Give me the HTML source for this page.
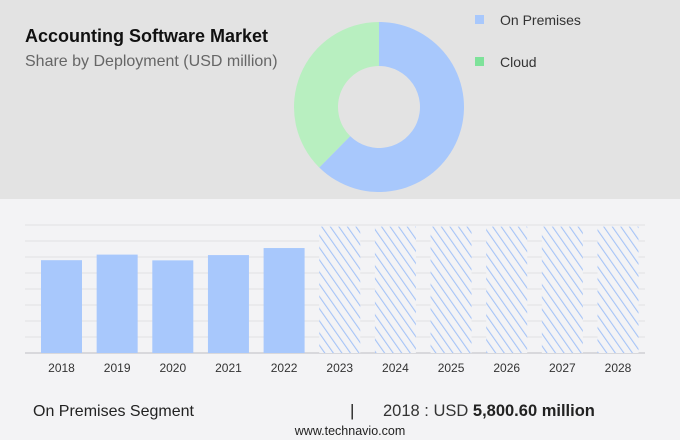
<!DOCTYPE html>
<html><head><meta charset="utf-8"><style>
body{margin:0;width:680px;height:440px;overflow:hidden;background:#f3f3f5;font-family:"Liberation Sans",sans-serif;}
svg{display:block}
</style></head><body>
<svg id="c" width="680" height="440" xmlns="http://www.w3.org/2000/svg">
<defs>
<pattern id="hatch" patternUnits="userSpaceOnUse" width="7" height="7" patternTransform="rotate(-35)">
<rect width="7" height="7" fill="#f3f3f5"/>
<line x1="0" y1="0" x2="0" y2="7" stroke="#a6c4f7" stroke-width="2.2"/>
</pattern>
</defs>
<rect x="0" y="0" width="680" height="199" fill="#e3e3e3"/>
<text x="25" y="42" font-size="18" font-weight="bold" fill="#111">Accounting Software Market</text>
<text x="25" y="66" font-size="16" fill="#666">Share by Deployment (USD million)</text>
<g id="donut"></g>
<rect x="475" y="15" width="9" height="9" fill="#a8c8fc"/>
<text x="500" y="25" font-size="14" fill="#333">On Premises</text>
<rect x="475" y="57" width="9" height="9" fill="#7ee29a"/>
<text x="500" y="67" font-size="14" fill="#333">Cloud</text>
<g id="grid"></g>
<g id="bars"></g>
<g id="xlab"></g>
<text x="33" y="416" font-size="16" fill="#222">On Premises Segment</text>
<text x="350" y="416" font-size="17" fill="#222">|</text>
<text x="383" y="416" font-size="16.5" fill="#333">2018 : USD <tspan font-weight="bold" fill="#222">5,800.60 million</tspan></text>
<text x="350" y="435" font-size="12.5" fill="#222" text-anchor="middle">www.technavio.com</text>
</svg>
<script>
const shareLabels=["On Premises","Cloud"];
const shareValues=[62.4,37.6];
const shareColors=["#a8c8fc","#b8efc0"];
const years=["2018","2019","2020","2021","2022","2023","2024","2025","2026","2027","2028"];
const values=[5800.6,6150,5790,6120,6560,7900,7900,7900,7900,7900,7900];
const forecast=[false,false,false,false,false,true,true,true,true,true,true];
const yTicks=[0,1000,2000,3000,4000,5000,6000,7000,8000];
const NS="http://www.w3.org/2000/svg";
function mk(t,a,p){const e=document.createElementNS(NS,t);for(const k in a)e.setAttribute(k,a[k]);p.appendChild(e);return e;}
const cx=379,cy=107,R=85,r=41;
const dg=document.getElementById('donut');
const tot=shareValues.reduce((a,b)=>a+b,0);
let ang=0;
shareValues.forEach((v,i)=>{
 const a0=ang,a1=ang+v/tot*2*Math.PI;ang=a1;
 const p=(rr,a)=>[cx+rr*Math.sin(a),cy-rr*Math.cos(a)];
 const lg=(a1-a0)>Math.PI?1:0;
 const [x0,y0]=p(R,a0),[x1,y1]=p(R,a1),[x2,y2]=p(r,a1),[x3,y3]=p(r,a0);
 const e=mk('path',{d:`M${x0},${y0}A${R},${R} 0 ${lg} 1 ${x1},${y1}L${x2},${y2}A${r},${r} 0 ${lg} 0 ${x3},${y3}Z`,fill:shareColors[i]},dg);
 
 
});
const baseY=353,topY=225,yMax=8000;
const ys=v=>baseY-(v/yMax)*(baseY-topY);
const x0c=61.5,step=55.65,bw=41;
const xs=i=>x0c+i*step;
const gg=document.getElementById('grid');
yTicks.forEach(t=>{
 const l=mk('line',{x1:25,x2:645,y1:ys(t),y2:ys(t),stroke:t===0?'#cfcfd3':'#e0e0e3','stroke-width':t===0?1.5:1},gg);
 
 
});
const bg=document.getElementById('bars'),xg=document.getElementById('xlab');
years.forEach((y,i)=>{
 const yy=ys(values[i]);
 const b=mk('rect',{x:xs(i)-bw/2,y:yy,width:bw,height:baseY-yy,fill:forecast[i]?'url(#hatch)':'#a8c8fc'},bg);
 
 
 const t=mk('text',{x:xs(i),y:372,'font-size':12,fill:'#333','text-anchor':'middle'},xg);
 t.textContent=y;
 
 
});
</script>
</body></html>
